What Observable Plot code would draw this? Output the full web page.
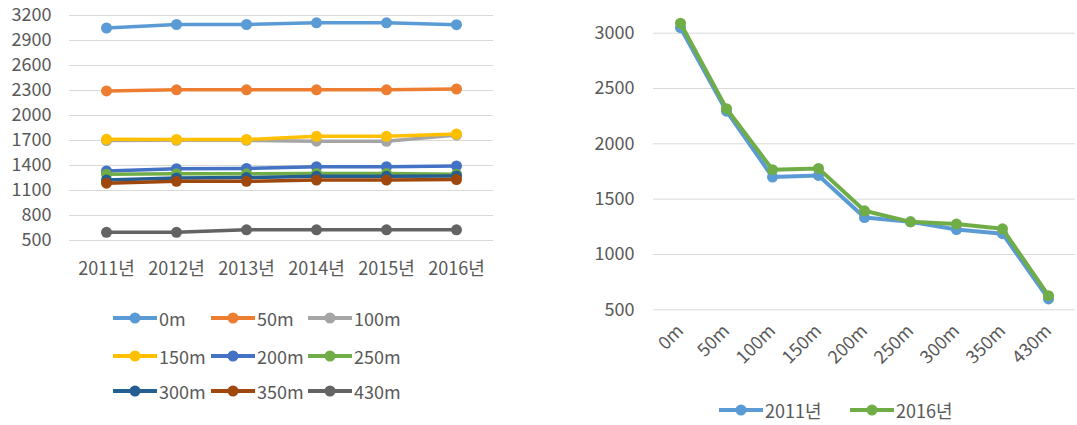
<!DOCTYPE html>
<html><head><meta charset="utf-8">
<script src="https://cdn.jsdelivr.net/npm/d3@7"></script>
<script src="https://cdn.jsdelivr.net/npm/@observablehq/plot@0.6"></script>
<style>
body{margin:0;background:#fff;font-family:"Noto Sans CJK KR","Noto Sans",sans-serif;}
#wrap{position:relative;width:1077px;height:425px;overflow:hidden;background:#fff}
.panel{position:absolute;top:0}
.leg{position:absolute;height:22px;line-height:22px;font-size:18px;color:#595959;display:flex;align-items:center;white-space:nowrap}
.leg svg{margin-right:2px}
</style></head><body><div id="wrap"></div>
<script>
// ---- data ----
const years = ["2011년", "2012년", "2013년", "2014년", "2015년", "2016년"];
const depths = ["0m", "50m", "100m", "150m", "200m", "250m", "300m", "350m", "430m"];
const s0m   = [3050, 3092, 3092, 3112, 3112, 3090];
const s50m  = [2295, 2308, 2308, 2308, 2308, 2318];
const s100m = [1700, 1702, 1702, 1692, 1690, 1766];
const s150m = [1714, 1712, 1712, 1750, 1750, 1778];
const s200m = [1334, 1362, 1365, 1385, 1385, 1395];
const s250m = [1295, 1300, 1300, 1305, 1305, 1295];
const s300m = [1225, 1250, 1255, 1270, 1270, 1275];
const s350m = [1188, 1210, 1210, 1225, 1225, 1232];
const s430m = [598, 598, 628, 628, 628, 628];
const leftTicks = [500, 800, 1100, 1400, 1700, 2000, 2300, 2600, 2900, 3200];

const y2011 = [3050, 2295, 1700, 1714, 1334, 1295, 1225, 1188, 598];
const y2016 = [3090, 2318, 1766, 1778, 1395, 1295, 1275, 1232, 628];
const rightTicks = [500, 1000, 1500, 2000, 2500, 3000];

const depthColors = ["#5B9BD5", "#ED7D31", "#A5A5A5", "#FFC000", "#4472C4", "#70AD47", "#255E91", "#9E480E", "#636363"];
const yearSeries = ["2011년", "2016년"];
const yearColors = ["#5B9BD5", "#70AD47"];

// ---- build ----
const wrap = document.getElementById("wrap");
const font = '"Noto Sans CJK KR","Noto Sans",sans-serif';
const allSeries = [s0m, s50m, s100m, s150m, s200m, s250m, s300m, s350m, s430m];

const leftMarks = [
  Plot.gridY(leftTicks, {stroke: "#d9d9d9", strokeOpacity: 1, strokeWidth: 1}),
  Plot.axisY(leftTicks, {tickSize: 0, tickPadding: 18, tickFormat: d => String(d)}),
  Plot.axisX({tickSize: 0, tickPadding: 22})
];
allSeries.forEach((vals, i) => {
  const rows = years.map((yr, j) => ({year: yr, value: vals[j]}));
  leftMarks.push(Plot.line(rows, {x: "year", y: "value", stroke: depthColors[i], strokeWidth: 3.5}));
  leftMarks.push(Plot.dot(rows, {x: "year", y: "value", fill: depthColors[i], r: 5.5}));
});

const left = Plot.plot({
  width: 500, height: 290,
  marginLeft: 69, marginRight: 7, marginTop: 15, marginBottom: 50,
  x: {type: "point", domain: years, padding: 0.5, label: null},
  y: {domain: [500, 3200], label: null},
  style: {fontSize: "18px", fontFamily: font, color: "#595959", background: "transparent"},
  marks: leftMarks
});
left.classList.add("panel");
left.style.left = "0px";
wrap.appendChild(left);

const rightMarks = [
  Plot.gridY(rightTicks, {stroke: "#d9d9d9", strokeOpacity: 1, strokeWidth: 1}),
  Plot.axisY(rightTicks, {tickSize: 0, tickPadding: 19, tickFormat: d => String(d)}),
  Plot.axisX({tickSize: 0, tickPadding: 18, tickRotate: -45})
];
[y2011, y2016].forEach((vals, i) => {
  const rows = depths.map((d, j) => ({depth: d, value: vals[j]}));
  rightMarks.push(Plot.line(rows, {x: "depth", y: "value", stroke: yearColors[i], strokeWidth: 4}));
  rightMarks.push(Plot.dot(rows, {x: "depth", y: "value", fill: yearColors[i], r: 5.5}));
});

const right = Plot.plot({
  width: 517, height: 390,
  marginLeft: 93, marginRight: 2, marginTop: 32.7, marginBottom: 80.7,
  x: {type: "point", domain: depths, padding: 0.5, label: null},
  y: {domain: [500, 3000], label: null},
  style: {fontSize: "18px", fontFamily: font, color: "#595959", background: "transparent"},
  marks: rightMarks
});
right.classList.add("panel");
right.style.left = "560px";
wrap.appendChild(right);

// ---- legends ----
function swatch(color) {
  return `<svg width="44" height="14"><line x1="0" x2="44" y1="7" y2="7" stroke="${color}" stroke-width="4" stroke-linecap="round"/><circle cx="22" cy="7" r="5.5" fill="${color}"/></svg>`;
}
function addLegend(label, color, x, cy) {
  const d = document.createElement("div");
  d.className = "leg";
  d.style.left = x + "px";
  d.style.top = (cy - 11) + "px";
  d.innerHTML = swatch(color) + `<span>${label}</span>`;
  wrap.appendChild(d);
}
const colX = [113, 211, 308];
const rowY = [318, 356, 391];
depths.forEach((d, i) => addLegend(d, depthColors[i], colX[i % 3], rowY[Math.floor(i / 3)]));
const rX = [719, 850];
yearSeries.forEach((s, i) => addLegend(s, yearColors[i], rX[i], 410));
</script></body></html>
